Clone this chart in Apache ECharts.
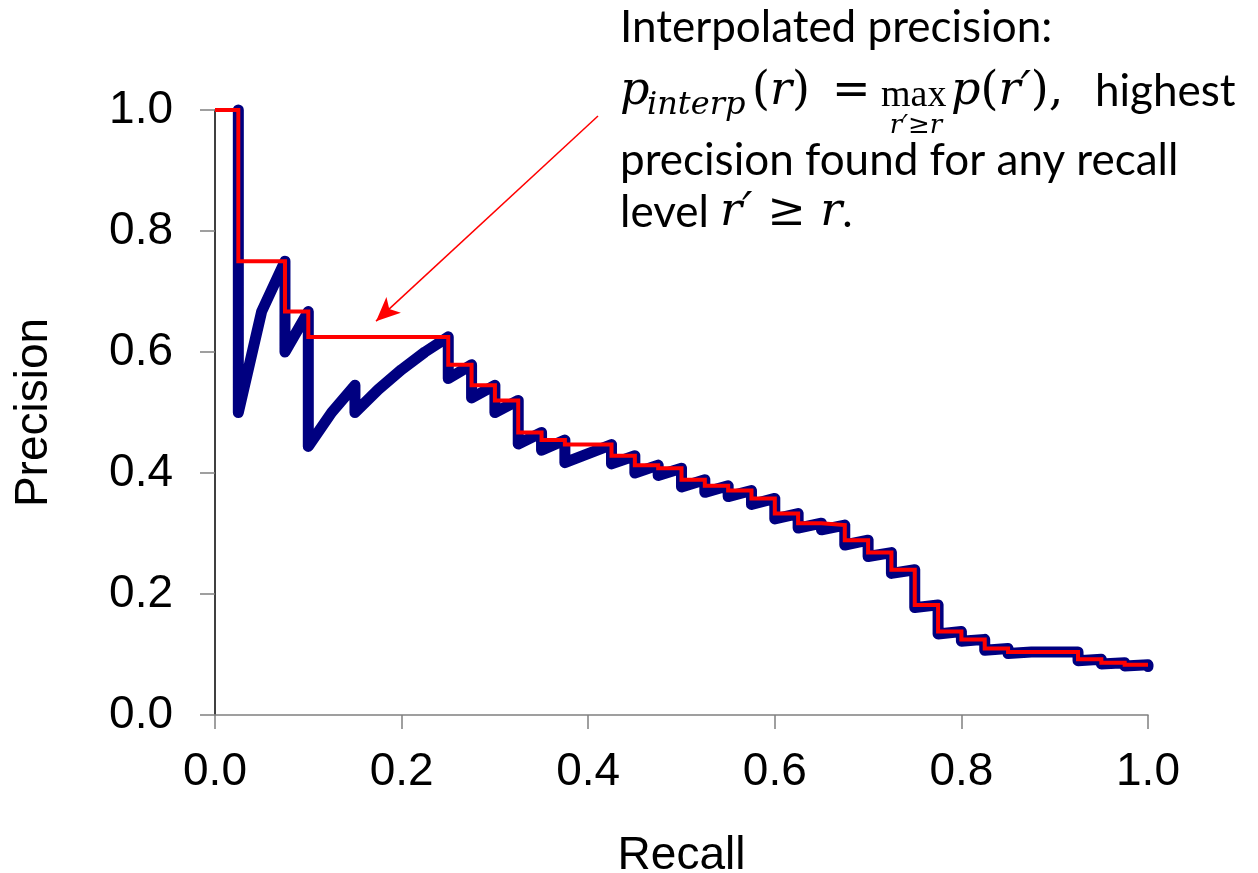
<!DOCTYPE html>
<html>
<head>
<meta charset="utf-8">
<script src="https://cdn.jsdelivr.net/npm/echarts@6/dist/echarts.min.js"></script>
<style>
  html, body { margin: 0; padding: 0; background: #ffffff; }
  #chart { width: 1258px; height: 873px; }
</style>
</head>
<body>
<div id="chart"></div>
<script>
// Precision at every rank point (recall, precision)
const blueRecall = [0.025,0.025,0.05,0.075,0.075,0.1,0.1,0.125,0.15,0.15,0.175,0.2,0.225,0.25,0.25,0.275,0.275,0.3,0.3,0.325,0.325,0.35,0.35,0.375,0.375,0.4,0.425,0.425,0.45,0.45,0.475,0.475,0.5,0.5,0.525,0.525,0.55,0.55,0.575,0.575,0.6,0.6,0.625,0.625,0.65,0.65,0.675,0.675,0.7,0.7,0.725,0.725,0.75,0.75,0.775,0.775,0.8,0.8,0.825,0.825,0.85,0.85,0.875,0.875,0.9,0.9,0.925,0.925,0.95,0.95,0.975,0.975,1.0,1.0];
const bluePrecision = [1.0,0.5,0.667,0.75,0.6,0.667,0.444,0.5,0.545,0.5,0.538,0.571,0.6,0.625,0.556,0.579,0.524,0.545,0.5,0.52,0.448,0.467,0.4375,0.4545,0.417,0.432,0.447,0.415,0.4286,0.4,0.413,0.396,0.408,0.377,0.389,0.368,0.379,0.361,0.371,0.348,0.358,0.324,0.333,0.309,0.317,0.306,0.314,0.281,0.289,0.262,0.2685,0.234,0.24,0.1775,0.182,0.134,0.138,0.122,0.125,0.107,0.110,0.1015,0.1042,0.1014,0.104,0.1017,0.1042,0.0898,0.092,0.0844,0.0865,0.0811,0.083,0.08];

// Interpolated precision step levels (start of each step, level)
const interpRecall = [0,0.025,0.075,0.1,0.25,0.275,0.3,0.325,0.35,0.375,0.425,0.45,0.475,0.5,0.525,0.55,0.575,0.6,0.625,0.65,0.675,0.7,0.725,0.75,0.775,0.8,0.825,0.85,0.925,0.95,0.975,1.0];
const interpPrecision = [1.0,0.75,0.667,0.625,0.579,0.545,0.52,0.467,0.4545,0.447,0.4286,0.413,0.408,0.389,0.379,0.371,0.358,0.333,0.317,0.314,0.289,0.2685,0.24,0.182,0.138,0.125,0.110,0.1042,0.092,0.0865,0.083,0.083];

// Arrow annotation (data coordinates): from text toward the flat interpolated segment
const arrowFrom = [0.4105, 0.99];
const arrowTo = [0.1726, 0.651];

const xTitle = 'Recall';
const yTitle = 'Precision';

const chart = echarts.init(document.getElementById('chart'), null, { renderer: 'canvas' });

const bluePairs = blueRecall.map((r, i) => [r, bluePrecision[i]]);
const redPairs = interpRecall.map((r, i) => [r, interpPrecision[i]]);

const sansFont = 'Lato';
const mathFont = '"DejaVu Serif"';
const textSize = 44;
const mathSize = 46;

function t(x, y, text, opts) {
  return {
    type: 'text', x: x, y: y, silent: true, z: 100,
    style: Object.assign({
      text: text, fill: '#000000', align: 'left', verticalAlign: 'middle',
      fontFamily: sansFont, fontSize: textSize
    }, opts || {})
  };
}
const mathRich = {
  u: { fontFamily: mathFont, fontSize: mathSize },
  i: { fontFamily: mathFont, fontStyle: 'italic', fontSize: mathSize },
  s: { fontFamily: sansFont, fontSize: textSize }
};

const option = {
  animation: false,
  backgroundColor: '#ffffff',
  grid: { left: 215, right: 110, top: 110, bottom: 158, containLabel: false, outerBoundsMode: 'none' },
  xAxis: {
    type: 'value', min: 0, max: 1, interval: 0.2,
    name: xTitle, nameLocation: 'middle', nameGap: 118,
    nameTextStyle: { fontFamily: 'Liberation Sans', fontSize: 46, color: '#000' },
    axisLine: { show: true, lineStyle: { color: '#808080', width: 1.5 } },
    axisTick: { show: true, inside: false, length: 14, lineStyle: { color: '#808080', width: 1.5 } },
    axisLabel: { margin: 34, fontFamily: 'Liberation Sans', fontSize: 46, color: '#000',
      formatter: v => v.toFixed(1) },
    splitLine: { show: false }
  },
  yAxis: {
    type: 'value', min: 0, max: 1, interval: 0.2,
    name: yTitle, nameLocation: 'middle', nameGap: 158,
    nameTextStyle: { fontFamily: 'Liberation Sans', fontSize: 46, color: '#000' },
    axisLine: { show: true, onZero: false, lineStyle: { color: '#000000', width: 1.5 } },
    axisTick: { show: true, inside: false, length: 15, lineStyle: { color: '#808080', width: 1.5 } },
    axisLabel: { margin: 42, fontFamily: 'Liberation Sans', fontSize: 46, color: '#000',
      formatter: v => v.toFixed(1) },
    splitLine: { show: false }
  },
  series: [
    {
      name: 'Precision', type: 'line', data: bluePairs,
      showSymbol: false, symbol: 'none', z: 2, clip: false,
      lineStyle: { color: '#000080', width: 11, cap: 'round', join: 'round' }
    },
    {
      name: 'Interpolated precision', type: 'line', data: redPairs, step: 'end',
      showSymbol: false, symbol: 'none', z: 3, clip: false,
      lineStyle: { color: '#ff0000', width: 4, cap: 'butt', join: 'miter' },
      markLine: {
        silent: true, animation: false,
        symbol: ['none', 'arrow'], symbolSize: [16, 24],
        label: { show: false },
        lineStyle: { color: '#ff0000', width: 1.5, type: 'solid' },
        data: [[{ coord: arrowFrom }, { coord: arrowTo }]]
      }
    }
  ],
  graphic: [
    t(620, 28, 'Interpolated precision:'),
    t(620, 92, 'p', { fontFamily: mathFont, fontStyle: 'italic', fontSize: mathSize }),
    t(647, 106, 'interp', { fontFamily: mathFont, fontStyle: 'italic', fontSize: 32 }),
    t(752, 92, '{u|(}{i|r}{u|)}', { fontFamily: mathFont, fontSize: mathSize, rich: mathRich }),
    t(832, 92, '=', { fontFamily: mathFont, fontSize: mathSize }),
    t(881, 96, 'max', { fontFamily: '"Liberation Serif"', fontSize: 38 }),
    t(916, 126, 'r′≥r', { fontFamily: mathFont, fontStyle: 'italic', fontSize: 26, align: 'center' }),
    t(951, 92, '{i|p}{u|(}{i|r′}{u|),}', { fontFamily: mathFont, fontSize: mathSize, rich: mathRich }),
    t(1095, 92, 'highest'),
    t(620, 161, 'precision found for any recall'),
    t(620, 213, '{s|level }{i|r′ ≥ r}{s|.}', { rich: mathRich })
  ]
};

chart.setOption(option);
</script>
</body>
</html>
